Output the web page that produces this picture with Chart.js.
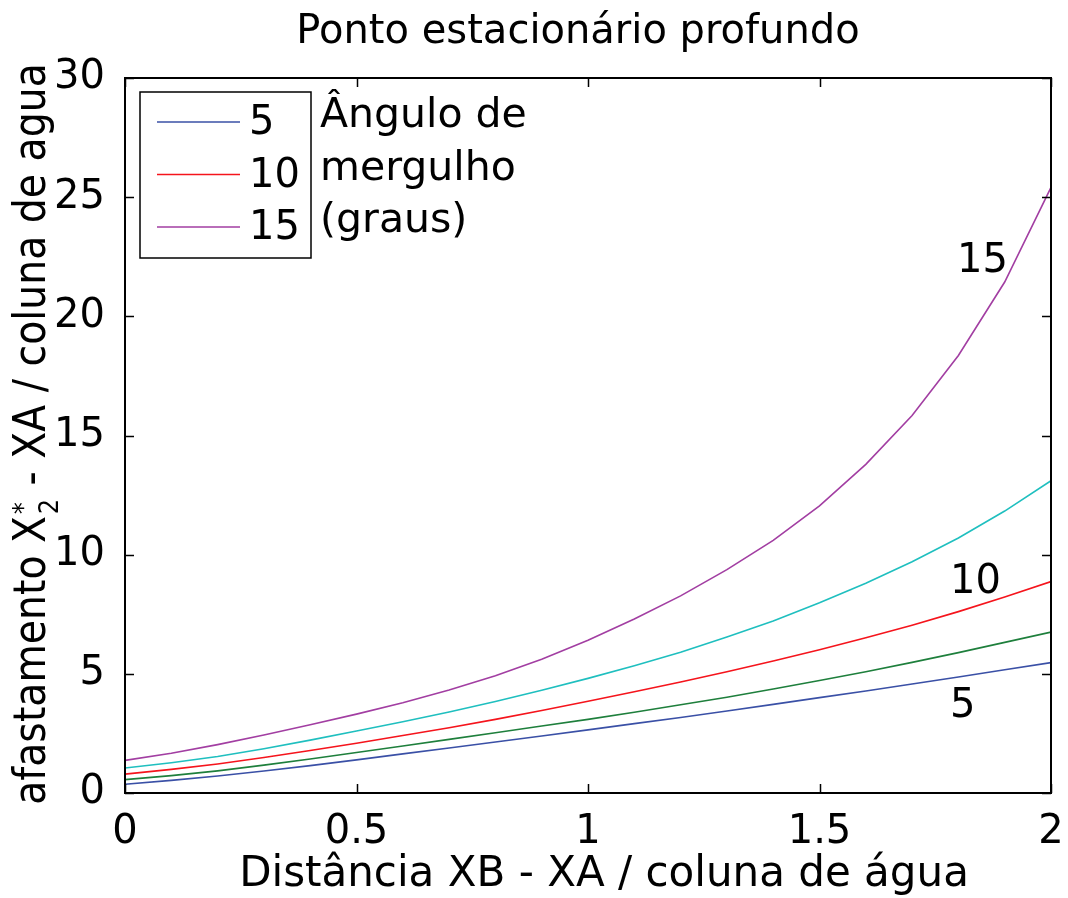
<!DOCTYPE html>
<html>
<head>
<meta charset="utf-8">
<script src="https://cdn.jsdelivr.net/npm/chart.js@4.4.1/dist/chart.umd.min.js"></script>
<style>
  html, body { margin: 0; padding: 0; background: #fff; }
  #wrap { width: 1068px; height: 898px; position: relative; }
</style>
</head>
<body>
<div id="wrap"><canvas id="c"></canvas></div>
<script>
// distância XB - XA / coluna de água
const XS = [0, 0.1, 0.2, 0.3, 0.4, 0.5, 0.6, 0.7, 0.8, 0.9, 1.0, 1.1, 1.2, 1.3, 1.4, 1.5, 1.6, 1.7, 1.8, 1.9, 2.0];
// afastamento por ângulo de mergulho
const ANG5    = [0.37, 0.53, 0.71, 0.92, 1.15, 1.39, 1.64, 1.89, 2.14, 2.39, 2.65, 2.91, 3.17, 3.44, 3.72, 4.00, 4.28, 4.57, 4.87, 5.17, 5.47];
const ANG7_5  = [0.56, 0.73, 0.93, 1.17, 1.43, 1.70, 1.97, 2.25, 2.53, 2.81, 3.09, 3.39, 3.70, 4.02, 4.36, 4.72, 5.09, 5.48, 5.89, 6.32, 6.75];
const ANG10   = [0.79, 0.99, 1.22, 1.49, 1.78, 2.09, 2.41, 2.74, 3.09, 3.46, 3.85, 4.25, 4.66, 5.09, 5.54, 6.01, 6.51, 7.04, 7.61, 8.22, 8.87];
const ANG12_5 = [1.05, 1.27, 1.53, 1.86, 2.22, 2.60, 2.99, 3.40, 3.84, 4.31, 4.81, 5.34, 5.91, 6.55, 7.22, 7.98, 8.80, 9.70, 10.70, 11.83, 13.10];
const ANG15   = [1.37, 1.67, 2.03, 2.43, 2.86, 3.31, 3.79, 4.32, 4.92, 5.61, 6.41, 7.30, 8.27, 9.37, 10.60, 12.05, 13.79, 15.84, 18.36, 21.44, 25.41];

const X_TICKS = [0, 0.5, 1, 1.5, 2];
const Y_TICKS = [0, 5, 10, 15, 20, 25, 30];

// rótulos nas curvas: texto, x, y (unidades dos dados)
const CURVE_LABELS = [["15", 1.797, 21.84], ["10", 1.782, 8.38], ["5", 1.782, 3.18]];
const LEGEND_ITEMS = [["5", "#3a50a6"], ["10", "#f5141c"], ["15", "#a23ea2"]];
const LEGEND_TITLE = ["Ângulo de", "mergulho", "(graus)"];

const FONT = '"DejaVu Sans", sans-serif';
const pts = (ys) => XS.map((x, i) => ({ x, y: ys[i] }));

const frame = {
  id: "frame",
  afterDatasetsDraw(chart) {
    const { ctx, chartArea: a, scales } = chart;
    const tl = 9;
    ctx.save();
    ctx.strokeStyle = "#000";
    ctx.lineWidth = 1.5;
    ctx.beginPath();
    for (const v of X_TICKS) {
      const px = Math.round(scales.x.getPixelForValue(v)) + 0.5;
      ctx.moveTo(px, a.bottom); ctx.lineTo(px, a.bottom - tl);
      ctx.moveTo(px, a.top); ctx.lineTo(px, a.top + tl);
    }
    for (const v of Y_TICKS) {
      const py = Math.round(scales.y.getPixelForValue(v)) + 0.5;
      ctx.moveTo(a.left, py); ctx.lineTo(a.left + tl, py);
      ctx.moveTo(a.right, py); ctx.lineTo(a.right - tl, py);
    }
    ctx.stroke();
    ctx.lineWidth = 2;
    ctx.strokeRect(a.left, a.top, a.right - a.left, a.bottom - a.top);

    // legenda
    ctx.lineWidth = 1.5;
    ctx.strokeRect(140, 92, 171, 166);
    ctx.font = "40px " + FONT;
    ctx.fillStyle = "#000";
    ctx.textBaseline = "middle";
    LEGEND_ITEMS.forEach(([t, col], i) => {
      const y = 122 + i * 52.5;
      ctx.strokeStyle = col;
      ctx.lineWidth = 1.5;
      ctx.beginPath(); ctx.moveTo(157, y); ctx.lineTo(240, y); ctx.stroke();
      ctx.fillText(t, 249, y + 2);
    });
    ctx.textBaseline = "alphabetic";
    ctx.font = "41px " + FONT;
    LEGEND_TITLE.forEach((t, i) => ctx.fillText(t, 320, 127 + i * 52.5));

    // rótulos das curvas
    ctx.font = "40px " + FONT;
    for (const [t, x, y] of CURVE_LABELS) {
      ctx.fillText(t, scales.x.getPixelForValue(x), scales.y.getPixelForValue(y));
    }

    // título
    ctx.textAlign = "center";
    ctx.fillText("Ponto estacionário profundo", 578, 43);
    // eixo x
    ctx.font = "42px " + FONT;
    ctx.fillText("Distância XB - XA / coluna de água", 604, 886);

    // eixo y com X*_2 (texto um pouco comprimido no sentido do comprimento)
    ctx.textAlign = "left";
    const big = "44px " + FONT, small = "27px " + FONT;
    ctx.font = big;
    const partA = "afastamento X", partB = " - XA / coluna de agua";
    const wA = ctx.measureText(partA).width, wB = ctx.measureText(partB).width;
    ctx.font = small;
    const wS = Math.max(ctx.measureText("2").width, ctx.measureText("*").width);
    const total = wA + wS + 3 + wB;
    ctx.translate(45, 434);
    ctx.rotate(-Math.PI / 2);
    ctx.scale(0.895, 1);
    const x0 = -total / 2;
    ctx.font = big;
    ctx.fillText(partA, x0, 0);
    ctx.font = small;
    ctx.fillText("*", x0 + wA + 2, -13);
    ctx.fillText("2", x0 + wA + 2, 13);
    ctx.font = big;
    ctx.fillText(partB, x0 + wA + wS + 3, 0);
    ctx.restore();
  }
};

const mk = (label, data, color) => ({
  label, data: pts(data), borderColor: color, borderWidth: 1.6,
  pointRadius: 0, tension: 0, fill: false
});

new Chart(document.getElementById("c"), {
  type: "line",
  data: {
    datasets: [
      mk("5", ANG5, "#3a50a6"),
      mk("7.5", ANG7_5, "#1e7f3c"),
      mk("10", ANG10, "#f5141c"),
      mk("12.5", ANG12_5, "#1fbfbf"),
      mk("15", ANG15, "#a23ea2")
    ]
  },
  options: {
    responsive: true,
    maintainAspectRatio: false,
    animation: false,
    layout: { padding: { top: 78, right: 17, left: 0, bottom: 0 } },
    plugins: { legend: { display: false }, tooltip: { enabled: false } },
    scales: {
      x: {
        type: "linear", min: 0, max: 2,
        grid: { display: false }, border: { display: false },
        afterBuildTicks: (s) => { s.ticks = X_TICKS.map(v => ({ value: v })); },
        afterFit: (s) => { s.height = 105; s.paddingLeft = 0; s.paddingRight = 0; },
        ticks: { color: "#000", padding: 8, font: { family: FONT, size: 40 }, callback: (v) => String(v) }
      },
      y: {
        min: 0, max: 30,
        grid: { display: false }, border: { display: false },
        afterBuildTicks: (s) => { s.ticks = Y_TICKS.map(v => ({ value: v })); },
        afterFit: (s) => { s.width = 125; s.paddingTop = 0; s.paddingBottom = 0; },
        ticks: { color: "#000", padding: 12, font: { family: FONT, size: 40 }, callback: (v) => String(v) }
      }
    }
  },
  plugins: [frame]
});
</script>
</body>
</html>
